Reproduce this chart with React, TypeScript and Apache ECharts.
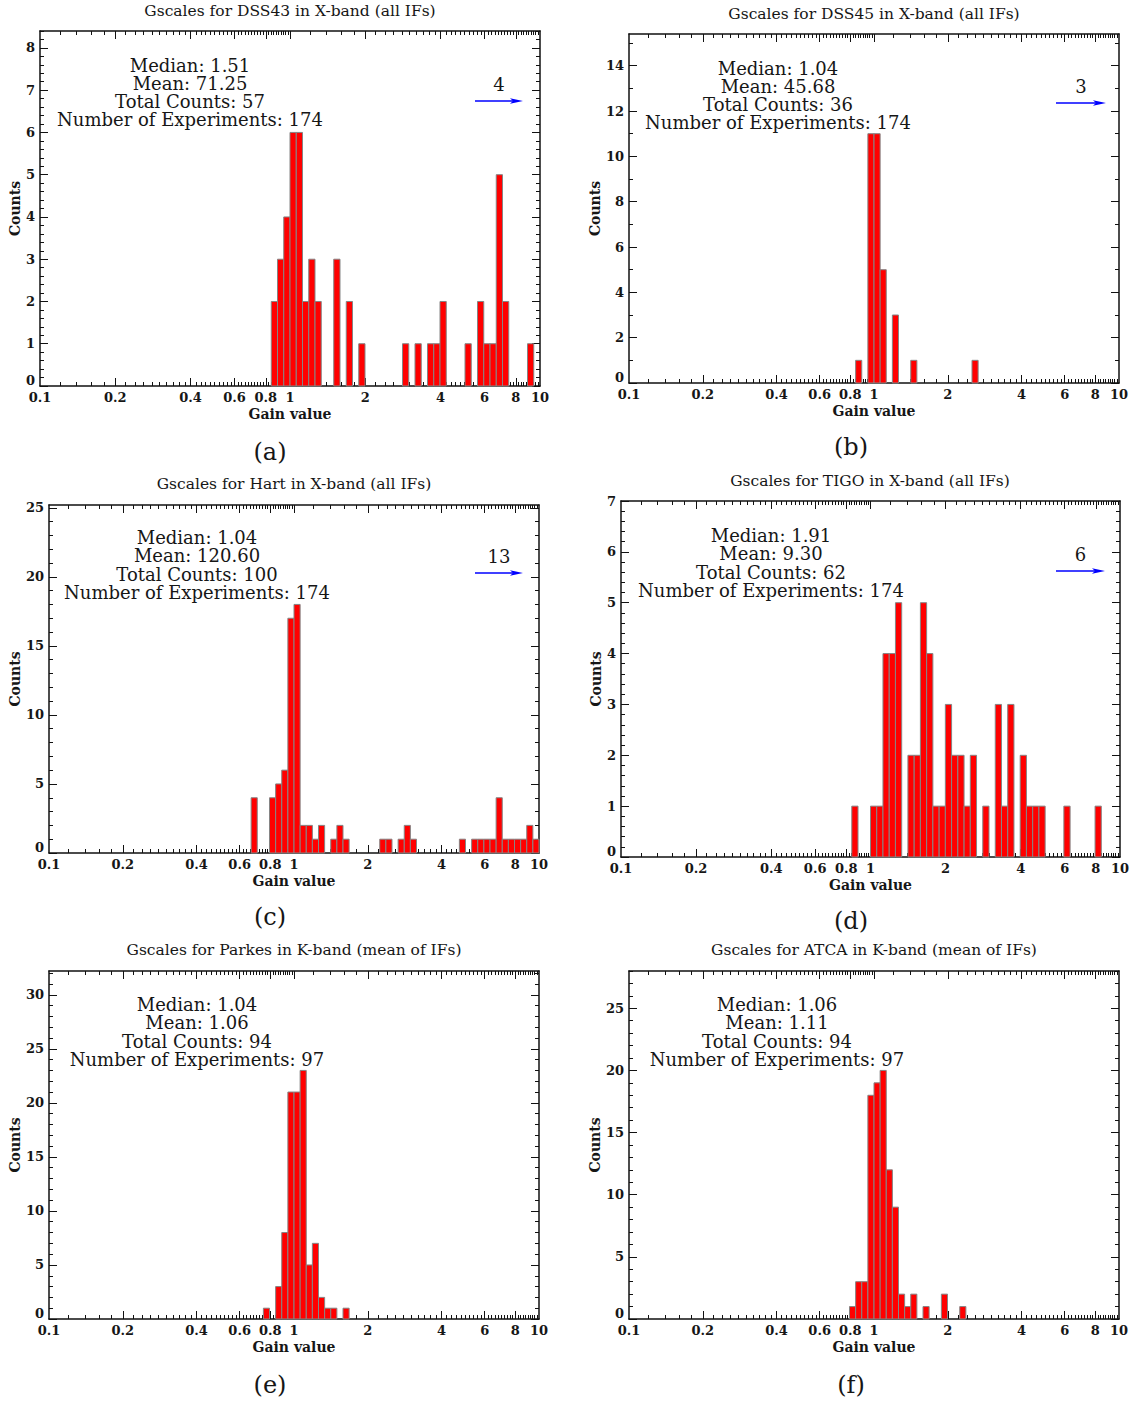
import React, { useEffect, useRef } from 'react';
import * as echarts from 'echarts';

// Histogram bins are equal in log10(gain): 40 bins per decade starting at 0.1.
const BIN_DEX = 0.025;
const LOG_MIN = -1;
const LOG_MAX = 1;

// Panel captions
const panelTitles = [
  'Gscales for DSS43 in X-band (all IFs)',
  'Gscales for DSS45 in X-band (all IFs)',
  'Gscales for Hart in X-band (all IFs)',
  'Gscales for TIGO in X-band (all IFs)',
  'Gscales for Parkes in K-band (mean of IFs)',
  'Gscales for ATCA in K-band (mean of IFs)',
];
const panelTags = ['(a)', '(b)', '(c)', '(d)', '(e)', '(f)'];

// Summary statistics printed in each panel
const medians = ['1.51', '1.04', '1.04', '1.91', '1.04', '1.06'];
const means = ['71.25', '45.68', '120.60', '9.30', '1.06', '1.11'];
const totalCounts = [57, 36, 100, 62, 94, 94];
const experiments = [174, 174, 174, 174, 97, 97];
// Counts that fall beyond the right edge (gain > 10)
const overflowCounts: (number | null)[] = [4, 3, 13, 6, null, null];

// Bin indices (0 = [0.1, 0.1*10^0.025)) and counts per bin
const dss43Bins = [37, 38, 39, 40, 41, 42, 43, 44, 47, 49, 51, 58, 60, 62, 63, 64, 68, 70, 71, 72, 73, 74, 78];
const dss43Counts = [2, 3, 4, 6, 6, 2, 3, 2, 3, 2, 1, 1, 1, 1, 1, 2, 1, 2, 1, 1, 5, 2, 1];

const dss45Bins = [37, 39, 40, 41, 43, 46, 56];
const dss45Counts = [1, 11, 11, 5, 3, 1, 1];

const hartBins = [33, 36, 37, 38, 39, 40, 41, 42, 43, 44, 46, 47, 48, 54, 55, 57, 58, 59, 67, 69, 70, 71, 72, 73, 74, 75, 76, 77, 78, 79];
const hartCounts = [4, 4, 5, 6, 17, 18, 2, 2, 1, 2, 1, 2, 1, 1, 1, 1, 2, 1, 1, 1, 1, 1, 1, 4, 1, 1, 1, 1, 2, 1];

const tigoBins = [37, 40, 41, 42, 43, 44, 46, 47, 48, 49, 50, 51, 52, 53, 54, 55, 56, 58, 60, 61, 62, 64, 65, 66, 67, 71, 76];
const tigoCounts = [1, 1, 1, 4, 4, 5, 2, 2, 5, 4, 1, 1, 3, 2, 2, 1, 2, 1, 3, 1, 3, 2, 1, 1, 1, 1, 1];

const parkesBins = [35, 37, 38, 39, 40, 41, 42, 43, 44, 45, 46, 48];
const parkesCounts = [1, 3, 8, 21, 21, 23, 5, 7, 2, 1, 1, 1];

const atcaBins = [36, 37, 38, 39, 40, 41, 42, 43, 44, 45, 46, 48, 51, 54];
const atcaCounts = [1, 3, 3, 18, 19, 20, 12, 9, 2, 1, 2, 1, 2, 1];

const panelBins = [dss43Bins, dss45Bins, hartBins, tigoBins, parkesBins, atcaBins];
const panelCounts = [dss43Counts, dss45Counts, hartCounts, tigoCounts, parkesCounts, atcaCounts];

// Axis tick labels
const gainTickLabels = [0.1, 0.2, 0.4, 0.6, 0.8, 1, 2, 4, 6, 8, 10];
const countStep = [1, 2, 5, 1, 5, 5];
const countMinorStep = [0.2, 1, 1, 0.2, 1, 1];

// Layout of the six panels (pixels)
const grids = [
  { left: 40, top: 31, width: 500, height: 355 },
  { left: 629, top: 34, width: 490, height: 349 },
  { left: 49, top: 505, width: 490, height: 348 },
  { left: 621, top: 501, width: 499, height: 356 },
  { left: 49, top: 971, width: 490, height: 348 },
  { left: 629, top: 971, width: 490, height: 348 },
];
const titlePos = [[290, 11], [874, 14], [294, 484], [870, 481], [294, 950], [874, 950]];
const tagPos = [[270, 452], [851, 447], [270, 917], [851, 921], [270, 1385], [851, 1385]];
const statsPos = [[190, 92.5], [778, 95.5], [197, 565], [771, 563], [197, 1032], [777, 1032]];
const arrowPos = [[475, 523, 101], [1056, 1106, 103], [475, 523, 573], [1056, 1105, 571]];
const countsNameGap = [18, 27, 27, 18, 27, 27];

const FONT = '"DejaVu Serif", "Liberation Serif", serif';
const INK = '#161616';
const AXIS = '#111';

const log10 = (v: number) => Math.log(v) / Math.LN10;

function stepValues(max: number, step: number): number[] {
  const out: number[] = [];
  for (let i = 0; i * step <= max + 1e-9; i++) out.push(+(i * step).toFixed(6));
  return out;
}

// Major/minor tick positions on the log gain axis
const majorGain = [0.2, 0.4, 0.6, 0.8, 1, 2, 4, 6, 8];
const minorGain: number[] = [];
[0.1, 1].forEach((base) => {
  for (let i = 6; i <= 49; i++) {
    const m = i / 5;
    if (m === 2 || m === 4 || m === 6 || m === 8) continue;
    minorGain.push(+(m * base).toFixed(4));
  }
});
const majorLog = majorGain.map(log10);
const minorLog = minorGain.map(log10);
const labelLog = gainTickLabels.map(log10);

function formatGain(v: number): string {
  return String(parseFloat(Math.pow(10, v).toPrecision(3)));
}

const tickFont = { fontFamily: FONT, fontSize: 13, fontWeight: 'bold' as const, color: INK };

function buildOption() {
  const xAxis: any[] = [];
  const yAxis: any[] = [];
  const series: any[] = [];
  const graphic: any[] = [];

  grids.forEach((_, p) => {
    const maxCount = Math.max(...panelCounts[p]);
    const yMax = +(maxCount * 1.4).toFixed(4);
    const yMajor = stepValues(yMax, countStep[p]);
    const yMinor = stepValues(yMax, countMinorStep[p]).filter(
      (v) => Math.abs(v / countStep[p] - Math.round(v / countStep[p])) > 1e-6
    );

    const lineStyle = { color: AXIS, width: 1.5 };
    const tickStyle = { color: AXIS, width: 1 };

    const xBase = {
      type: 'value',
      gridIndex: p,
      min: LOG_MIN,
      max: LOG_MAX,
      splitLine: { show: false },
    };
    // bottom: labels + major ticks
    xAxis.push({
      ...xBase,
      position: 'bottom',
      axisLine: { show: true, onZero: false, lineStyle },
      axisTick: { show: true, inside: true, length: 8, customValues: majorLog, lineStyle: tickStyle },
      axisLabel: {
        show: true,
        customValues: labelLog,
        formatter: (v: number) => formatGain(v),
        ...tickFont,
        margin: 5,
      },
      name: 'Gain value',
      nameLocation: 'middle',
      nameGap: 21,
      nameTextStyle: { fontFamily: FONT, fontSize: 14, fontWeight: 'bold', color: INK },
    });
    // bottom: minor ticks
    xAxis.push({
      ...xBase,
      position: 'bottom',
      axisLine: { show: false, onZero: false },
      axisTick: { show: true, inside: true, length: 4, customValues: minorLog, lineStyle: tickStyle },
      axisLabel: { show: false },
    });
    // top: frame + major ticks
    xAxis.push({
      ...xBase,
      position: 'top',
      axisLine: { show: true, onZero: false, lineStyle },
      axisTick: { show: true, inside: true, length: 8, customValues: majorLog, lineStyle: tickStyle },
      axisLabel: { show: false },
    });
    // top: minor ticks
    xAxis.push({
      ...xBase,
      position: 'top',
      axisLine: { show: false, onZero: false },
      axisTick: { show: true, inside: true, length: 4, customValues: minorLog, lineStyle: tickStyle },
      axisLabel: { show: false },
    });

    const yBase = {
      type: 'value',
      gridIndex: p,
      min: 0,
      max: yMax,
      splitLine: { show: false },
    };
    yAxis.push({
      ...yBase,
      position: 'left',
      axisLine: { show: true, onZero: false, lineStyle },
      axisTick: { show: true, inside: true, length: 8, customValues: yMajor, lineStyle: tickStyle },
      axisLabel: {
        show: true,
        customValues: yMajor,
        ...tickFont,
        margin: 5,
        // the zero label sits a little above the corner so it clears the gain labels
        formatter: (v: number) => (v === 0 ? '{zero|0}' : String(v)),
        rich: { zero: { ...tickFont, padding: [0, 0, 12, 0] } },
      },
      name: 'Counts',
      nameLocation: 'middle',
      nameRotate: 90,
      nameGap: countsNameGap[p],
      nameTextStyle: { fontFamily: FONT, fontSize: 14, fontWeight: 'bold', color: INK },
    });
    yAxis.push({
      ...yBase,
      position: 'left',
      axisLine: { show: false, onZero: false },
      axisTick: { show: true, inside: true, length: 4, customValues: yMinor, lineStyle: tickStyle },
      axisLabel: { show: false },
    });
    yAxis.push({
      ...yBase,
      position: 'right',
      axisLine: { show: true, onZero: false, lineStyle },
      axisTick: { show: true, inside: true, length: 8, customValues: yMajor, lineStyle: tickStyle },
      axisLabel: { show: false },
    });
    yAxis.push({
      ...yBase,
      position: 'right',
      axisLine: { show: false, onZero: false },
      axisTick: { show: true, inside: true, length: 4, customValues: yMinor, lineStyle: tickStyle },
      axisLabel: { show: false },
    });

    const bins = panelBins[p];
    const counts = panelCounts[p];
    series.push({
      type: 'custom',
      name: panelTitles[p],
      xAxisIndex: p * 4,
      yAxisIndex: p * 4,
      encode: { x: [0, 1], y: 2 },
      data: bins.map((k, i) => [LOG_MIN + k * BIN_DEX, LOG_MIN + (k + 1) * BIN_DEX, counts[i]]),
      renderItem: (params: any, api: any) => {
        const lo = api.value(0);
        const hi = api.value(1);
        const n = api.value(2);
        const a = api.coord([lo, 0]);
        const b = api.coord([hi, n]);
        return {
          type: 'rect',
          shape: { x: a[0], y: b[1], width: b[0] - a[0], height: a[1] - b[1] },
          style: { fill: '#ff0000', stroke: '#858585', lineWidth: 1 },
        };
      },
      z: 3,
    });

    // Title
    graphic.push({
      type: 'text',
      x: titlePos[p][0],
      y: titlePos[p][1],
      style: {
        text: panelTitles[p],
        font: `15.5px ${FONT}`,
        fill: INK,
        textAlign: 'center',
        textVerticalAlign: 'middle',
        align: 'center',
        verticalAlign: 'middle',
      },
    });
    // Sub-figure tag
    graphic.push({
      type: 'text',
      x: tagPos[p][0],
      y: tagPos[p][1],
      style: {
        text: panelTags[p],
        font: `24px ${FONT}`,
        fill: INK,
        textAlign: 'center',
        textVerticalAlign: 'middle',
        align: 'center',
        verticalAlign: 'middle',
      },
    });
    // Statistics block, one centred multi-line text
    const lines = [
      `Median: ${medians[p]}`,
      `Mean: ${means[p]}`,
      `Total Counts: ${totalCounts[p]}`,
      `Number of Experiments: ${experiments[p]}`,
    ];
    graphic.push({
      type: 'text',
      x: statsPos[p][0],
      y: statsPos[p][1],
      style: {
        text: lines.join('\n'),
        font: `18px ${FONT}`,
        lineHeight: 18.3,
        fill: INK,
        textAlign: 'center',
        textVerticalAlign: 'middle',
        align: 'center',
        verticalAlign: 'middle',
      },
    });
    // Overflow arrow
    const ov = overflowCounts[p];
    if (ov !== null && arrowPos[p]) {
      const [x1, x2, y] = arrowPos[p];
      graphic.push({
        type: 'line',
        shape: { x1, y1: y, x2: x2 - 6, y2: y },
        style: { stroke: '#0000ff', lineWidth: 1.3 },
        z: 10,
      });
      graphic.push({
        type: 'polygon',
        shape: { points: [[x2, y], [x2 - 13, y - 2.8], [x2 - 10, y], [x2 - 13, y + 2.8]] },
        style: { fill: '#0000ff' },
        z: 10,
      });
      graphic.push({
        type: 'text',
        x: (x1 + x2) / 2,
        y: y - 17,
        style: {
          text: String(ov),
          font: `18px ${FONT}`,
          fill: INK,
          textAlign: 'center',
          textVerticalAlign: 'middle',
          align: 'center',
          verticalAlign: 'middle',
        },
      });
    }
  });

  return {
    animation: false,
    backgroundColor: '#ffffff',
    grid: grids.map((g) => ({ ...g, containLabel: false })),
    xAxis,
    yAxis,
    series,
    graphic,
  };
}

export default function App() {
  const ref = useRef<HTMLDivElement | null>(null);
  useEffect(() => {
    if (!ref.current) return;
    const chart = echarts.init(ref.current, undefined, { renderer: 'svg' });
    chart.setOption(buildOption() as any);
    return () => {
      chart.dispose();
    };
  }, []);
  return (
    <div
      ref={ref}
      style={{ position: 'absolute', left: 0, top: 0, width: 1136, height: 1403, background: '#fff' }}
    />
  );
}
